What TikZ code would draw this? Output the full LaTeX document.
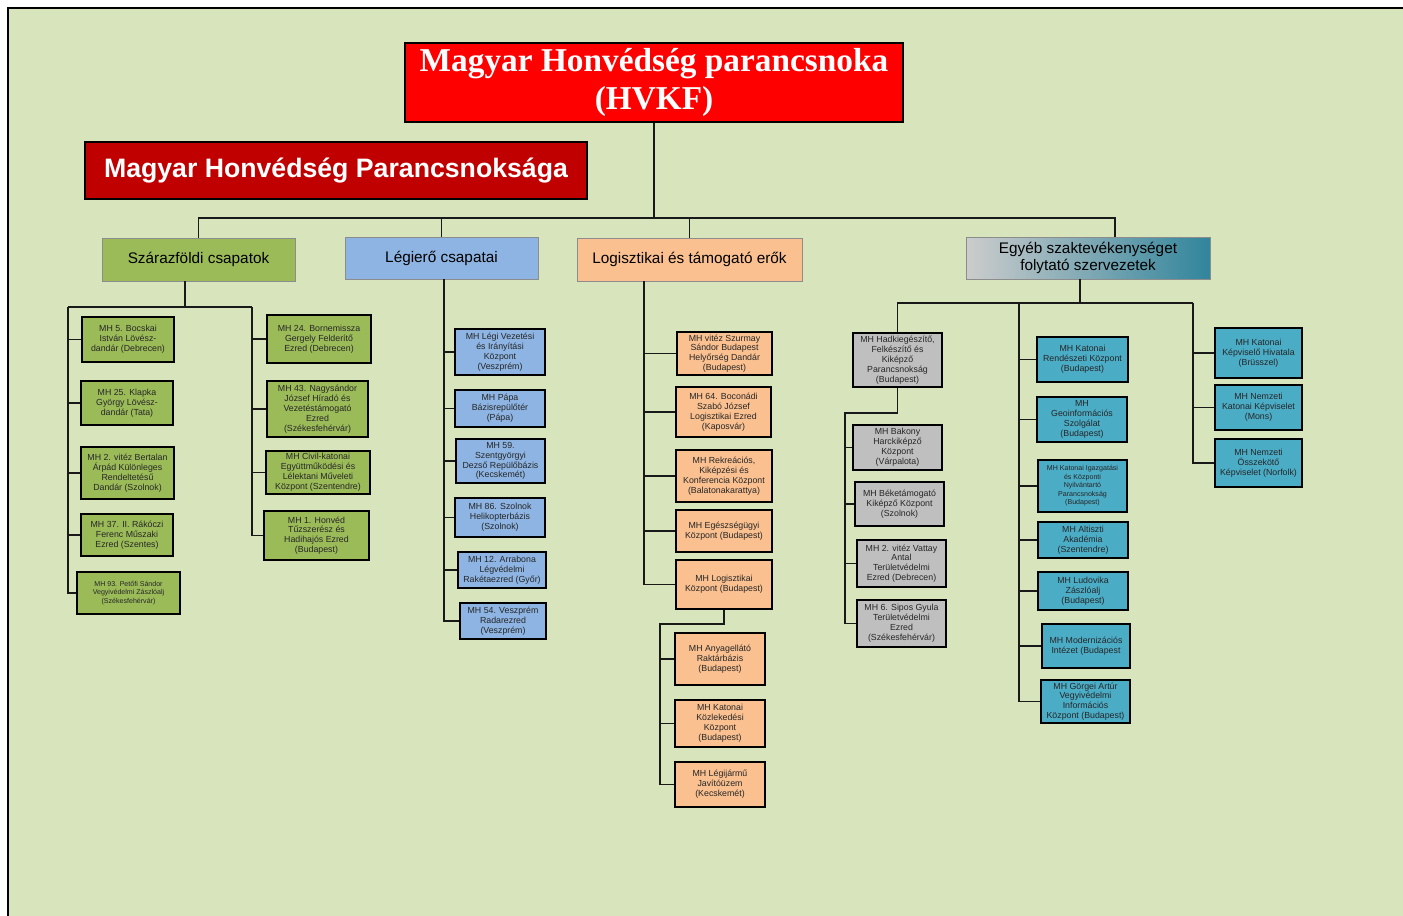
\documentclass[tikz,border=0pt]{standalone}
\usepackage{fontspec}
\setmainfont{Liberation Sans}
\newfontfamily\serifbf{Liberation Serif}
\usetikzlibrary{calc}
\definecolor{bgc}{HTML}{D8E4BC}
\definecolor{cgreen}{HTML}{9BBB59}
\definecolor{cblue}{HTML}{8DB4E2}
\definecolor{corange}{HTML}{FAC090}
\definecolor{cgray}{HTML}{BFBFBF}
\definecolor{cteal}{HTML}{4BACC6}
\definecolor{cdteal}{HTML}{31859C}
\definecolor{cdred}{HTML}{C00000}
\newcommand\bx[7]{\node[#6,minimum width={(#4-#2)*0.75pt},minimum height={(#5-#3)*0.75pt}] (#1) at ({(#2+#4)/2},{(#3+#5)/2}) {#7};}
\begin{document}
\begin{tikzpicture}[x=0.75pt,y=-0.75pt,
  box/.style={draw=black,line width=2pt,align=center,inner sep=1pt,font=\fontsize{6.6}{7.4}\selectfont,text=black!85},
  smallf/.style={font=\fontsize{5.3}{6.4}\selectfont},
  gbox/.style={box,fill=cgreen},
  bbox/.style={box,fill=cblue},
  obox/.style={box,fill=corange},
  ybox/.style={box,fill=cgray},
  tbox/.style={box,fill=cteal},
  hdr/.style={draw=black!45,line width=0.6pt,align=center,inner sep=1pt,font=\fontsize{11.5}{12.5}\selectfont,text=black},
  conn/.style={line width=1.3pt,draw=black!90}]
\useasboundingbox (0,0) rectangle (1403,915);
\fill[white] (0,0) rectangle (1403,915);
\draw[fill=bgc,line width=1.5pt] (8,8) rectangle (1430,940);

% top
\bx{hvkf}{405}{43}{903}{122}{box,fill=red,line width=1.6pt,font=\serifbf\bfseries\fontsize{25}{28}\selectfont,text=white}{Magyar Honvédség parancsnoka\\(HVKF)}
\bx{mhp}{85}{142}{587}{199}{box,fill=cdred,line width=1.6pt,font=\bfseries\fontsize{20}{24}\selectfont,text=white}{Magyar Honvédség Parancsnoksága}

% headers
\bx{szf}{102}{238}{295}{281}{hdr,fill=cgreen}{Szárazföldi csapatok}
\bx{lgr}{345}{237}{538}{279}{hdr,fill=cblue}{Légierő csapatai}
\bx{log}{577}{238}{802}{281}{hdr,fill=corange}{Logisztikai és támogató erők}
\bx{egy}{966}{237}{1210}{279}{hdr,left color=gray!40,right color=cdteal}{Egyéb szaktevékenységet\\folytató szervezetek}

% Szárazföldi
\bx{L1}{82}{317}{174}{362}{gbox}{MH 5. Bocskai\\István Lövész-\\dandár (Debrecen)}
\bx{L2}{81}{381}{173}{425}{gbox}{MH 25. Klapka\\György Lövész-\\dandár (Tata)}
\bx{L3}{81}{447}{174}{499}{gbox}{MH 2. vitéz Bertalan\\Árpád Különleges\\Rendeltetésű\\Dandár (Szolnok)}
\bx{L4}{81}{514}{173}{556}{gbox}{MH 37. II. Rákóczi\\Ferenc Műszaki\\Ezred (Szentes)}
\bx{L5}{77}{572}{180}{614}{gbox,smallf}{MH 93. Petőfi Sándor\\Vegyivédelmi Zászlóalj\\(Székesfehérvár)}
\bx{R1}{267}{315}{371}{363}{gbox}{MH 24. Bornemissza\\Gergely Felderítő\\Ezred (Debrecen)}
\bx{R2}{267}{381}{368}{437}{gbox}{MH 43. Nagysándor\\József Híradó és\\Vezetéstámogató\\Ezred\\(Székesfehérvár)}
\bx{R3}{266}{451}{370}{494}{gbox}{MH Civil-katonai\\Együttműködési és\\Lélektani Műveleti\\Központ (Szentendre)}
\bx{R4}{264}{511}{369}{560}{gbox}{MH 1. Honvéd\\Tűzszerész és\\Hadihajós Ezred\\(Budapest)}

% Légierő
\bx{B1}{455}{329}{545}{375}{bbox}{MH Légi Vezetési\\és Irányítási\\Központ\\(Veszprém)}
\bx{B2}{455}{390}{545}{427}{bbox}{MH Pápa\\Bázisrepülőtér\\(Pápa)}
\bx{B3}{456}{439}{545}{483}{bbox}{MH 59.\\Szentgyörgyi\\Dezső Repülőbázis\\(Kecskemét)}
\bx{B4}{455}{498}{545}{537}{bbox}{MH 86. Szolnok\\Helikopterbázis\\(Szolnok)}
\bx{B5}{458}{552}{546}{588}{bbox}{MH 12. Arrabona\\Légvédelmi\\Rakétaezred (Győr)}
\bx{B6}{460}{603}{546}{639}{bbox}{MH 54. Veszprém\\Radarezred\\(Veszprém)}

% Logisztikai
\bx{O1}{677}{332}{772}{375}{obox}{MH vitéz Szurmay\\Sándor Budapest\\Helyőrség Dandár\\(Budapest)}
\bx{O2}{676}{387}{771}{437}{obox}{MH 64. Boconádi\\Szabó József\\Logisztikai Ezred\\(Kaposvár)}
\bx{O3}{676}{450}{772}{502}{obox}{MH Rekreációs,\\Kiképzési és\\Konferencia Központ\\(Balatonakarattya)}
\bx{O4}{676}{510}{772}{552}{obox}{MH Egészségügyi\\Központ (Budapest)}
\bx{O5}{676}{560}{772}{609}{obox}{MH Logisztikai\\Központ (Budapest)}
\bx{O6}{675}{633}{765}{685}{obox}{MH Anyagellátó\\Raktárbázis\\(Budapest)}
\bx{O7}{675}{700}{765}{747}{obox}{MH Katonai\\Közlekedési\\Központ\\(Budapest)}
\bx{O8}{675}{762}{765}{807}{obox}{MH Légijármű\\Javítóüzem\\(Kecskemét)}

% Egyéb - gray
\bx{G0}{853}{333}{942}{387}{ybox}{MH Hadkiegészítő,\\Felkészítő és\\Kiképző\\Parancsnokság\\(Budapest)}
\bx{G1}{853}{425}{942}{470}{ybox}{MH Bakony\\Harckiképző\\Központ\\(Várpalota)}
\bx{G2}{855}{482}{944}{526}{ybox}{MH Béketámogató\\Kiképző Központ\\(Szolnok)}
\bx{G3}{857}{540}{946}{587}{ybox}{MH 2. vitéz Vattay\\Antal\\Területvédelmi\\Ezred (Debrecen)}
\bx{G4}{857}{600}{946}{647}{ybox}{MH 6. Sipos Gyula\\Területvédelmi\\Ezred\\(Székesfehérvár)}

% Egyéb - teal
\bx{T1}{1037}{337}{1128}{382}{tbox}{MH Katonai\\Rendészeti Központ\\(Budapest)}
\bx{T2}{1037}{397}{1127}{442}{tbox}{MH\\Geoinformációs\\Szolgálat\\(Budapest)}
\bx{T3}{1038}{460}{1127}{512}{tbox,smallf}{MH Katonai Igazgatási\\és Központi\\Nyilvántartó\\Parancsnokság\\(Budapest)}
\bx{T4}{1038}{522}{1128}{558}{tbox}{MH Altiszti\\Akadémia\\(Szentendre)}
\bx{T5}{1038}{572}{1128}{610}{tbox}{MH Ludovika\\Zászlóalj\\(Budapest)}
\bx{T6}{1042}{624}{1130}{668}{tbox}{MH Modernizációs\\Intézet (Budapest}
\bx{T7}{1041}{680}{1130}{723}{tbox}{MH Görgei Artúr\\Vegyivédelmi\\Információs\\Központ (Budapest)}
\bx{U1}{1215}{328}{1302}{378}{tbox}{MH Katonai\\Képviselő Hivatala\\(Brüsszel)}
\bx{U2}{1215}{385}{1302}{430}{tbox}{MH Nemzeti\\Katonai Képviselet\\(Mons)}
\bx{U3}{1215}{439}{1302}{487}{tbox}{MH Nemzeti\\Összekötő\\Képviselet (Norfolk)}

% ---- connectors ----
\coordinate (j0) at (653,218);
\coordinate (e1) at (1115,237);
\draw[conn] (hvkf.south) -- (hvkf.south |- j0);
\draw[conn] (szf.north) |- (j0) -- (e1 |- j0) -- (e1);
\draw[conn] (lgr.north) -- (lgr.north |- j0);
\draw[conn] (log.north) -- (log.north |- j0);

% Szárazföldi
\coordinate (s0) at (185,307);
\coordinate (sL) at (68,307);
\coordinate (sR) at (252,307);
\draw[conn] (s0 |- szf.south) -- (s0);
\draw[conn] (sL) -- (sR);
\draw[conn] (sL) |- (L5.west);
\foreach \n in {L1,L2,L3,L4} \draw[conn] (sL |- \n.west) -- (\n.west);
\draw[conn] (sR) |- (R4.west);
\foreach \n in {R1,R2,R3} \draw[conn] (sR |- \n.west) -- (\n.west);

% Légierő
\coordinate (bx) at (444,279);
\draw[conn] (bx) |- (B6.west);
\foreach \n in {B1,B2,B3,B4,B5} \draw[conn] (bx |- \n.west) -- (\n.west);

% Logisztikai
\coordinate (ox) at (644,281);
\draw[conn] (ox) |- (O5.west);
\foreach \n in {O1,O2,O3,O4} \draw[conn] (ox |- \n.west) -- (\n.west);
\coordinate (oj) at (660,624);
\draw[conn] (O5.south) |- (oj) |- (O8.west);
\foreach \n in {O6,O7} \draw[conn] (oj |- \n.west) -- (\n.west);

% Egyéb
\coordinate (ey) at (1080,279);
\coordinate (eb) at (1080,303);
\coordinate (eM) at (1019,303);
\coordinate (eR) at (1193,303);
\draw[conn] (ey) -- (eb);
\draw[conn] (G0.north) |- (eR);
\draw[conn] (eM) |- (T7.west);
\foreach \n in {T1,T2,T3,T4,T5,T6} \draw[conn] (eM |- \n.west) -- (\n.west);
\draw[conn] (eR) |- (U3.west);
\foreach \n in {U1,U2} \draw[conn] (eR |- \n.west) -- (\n.west);
\coordinate (gj) at (845,413);
\draw[conn] (G0.south) |- (gj) |- (G4.west);
\foreach \n in {G1,G2,G3} \draw[conn] (gj |- \n.west) -- (\n.west);
\end{tikzpicture}
\end{document}
